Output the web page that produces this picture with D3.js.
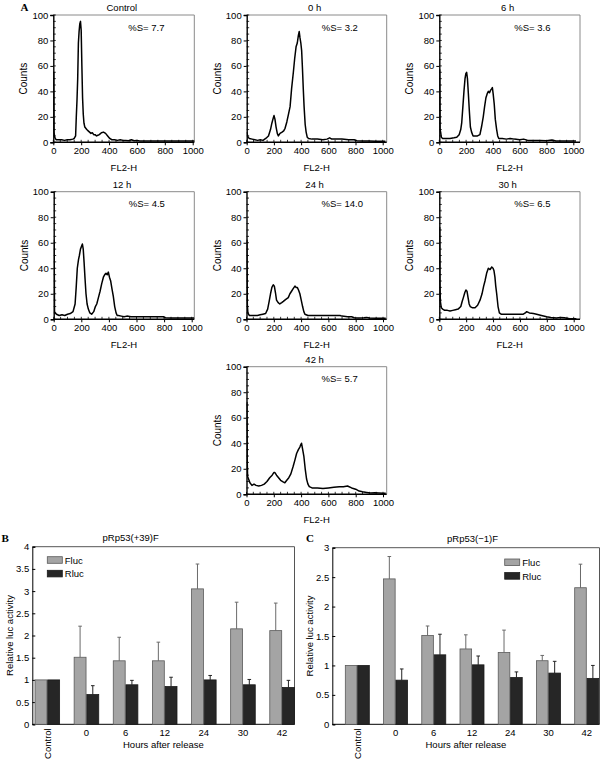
<!DOCTYPE html>
<html><head><meta charset="utf-8">
<script src="https://cdn.jsdelivr.net/npm/d3@7/dist/d3.min.js"></script>
<style>body{margin:0;background:#fff}svg{display:block;font-family:"Liberation Sans",Arial,sans-serif}</style>
</head><body>
<svg id="c" width="600" height="759"></svg>
<script>
// ---------- Panel A data: flow cytometry histograms [FL2-H, counts] ----------
const histTitles = ["Control","0 h","6 h","12 h","24 h","30 h","42 h"];
const histSPhase = ["7.7","3.2","3.6","4.5","14.0","6.5","5.7"];
const histControl = [[0,55],[3,55],[5,8],[10,4],[20,2],[40,2],[60,2],[80,1.5],[100,2],[120,2],[140,2.5],[150,3],[160,5],[165,20],[170,33],[175,50],[180,78],[185,87],[190,93],[195,95],[200,88],[205,60],[210,35],[215,22],[220,15],[226,12],[240,10],[250,9],[260,8],[270,7],[280,7.5],[290,6],[300,6],[310,5],[320,5.5],[330,6],[345,7.5],[360,8],[375,7],[390,5],[405,3],[420,2],[440,2],[460,1.5],[480,2],[500,1.5],[520,1.5],[540,1.2],[560,2],[580,1.2],[600,1.5],[620,1],[650,1],[700,1],[750,1],[800,1],[850,1],[900,1],[950,1],[1020,1]];
const hist0h = [[0,8],[5,6],[10,4],[20,3],[40,2.5],[60,2],[80,1.5],[100,2],[120,1.5],[140,3],[160,5],[175,10],[185,15],[195,19],[201,21],[208,18],[216,12],[225,7],[233,5],[245,7],[260,8],[272,9],[282,11],[295,16],[307,22],[319,28],[330,42],[343,55],[353,66],[363,75],[372,78],[380,84],[386,87],[392,82],[398,78],[404,72],[410,58],[416,42],[422,28],[430,14],[437,8],[445,4],[455,3],[480,2.5],[520,2.5],[560,2],[590,2.5],[610,3.5],[625,2.5],[660,2.5],[700,2.5],[750,2],[790,2],[810,1.2],[850,1],[900,1],[950,0.8],[1020,0.8]];
const hist6h = [[0,57],[3,57],[6,10],[10,8],[15,4],[25,3],[50,3],[80,3],[110,3.5],[130,4],[148,6],[160,10],[167,15],[176,28],[184,40],[192,50],[198,54],[204,55],[210,50],[217,38],[224,25],[232,12],[241,8],[252,5],[266,5],[285,5],[303,6],[315,12],[328,20],[338,28],[348,35],[357,38],[366,40],[375,39],[383,41],[390,42],[396,43],[402,38],[410,30],[418,18],[428,10],[436,5],[444,3],[470,3],[500,2.5],[530,3],[560,2.5],[600,2],[630,2.5],[660,1.5],[700,1.5],[750,1.5],[800,1.2],[840,1.8],[870,1],[920,1],[970,1],[1020,1]];
const hist12h = [[0,62],[3,62],[6,6],[10,5],[20,4],[40,3],[60,3.5],[80,3],[100,4],[120,4.5],[140,6],[155,12],[163,25],[171,40],[180,47],[186,50],[194,55],[201,57],[208,59],[214,55],[220,45],[227,32],[234,20],[242,12],[251,8],[262,5],[275,4],[290,6],[302,10],[312,12],[324,17],[336,22],[348,28],[360,33],[370,35],[379,36],[388,35],[396,37],[404,33],[413,30],[422,24],[432,18],[442,10],[452,5],[460,3],[469,3],[490,2.5],[510,2],[530,2.5],[560,2],[600,2],[650,2],[700,2],[750,2],[795,2],[810,1.2],[850,1],[900,1],[950,1],[1020,1]];
const hist24h = [[0,62],[3,62],[6,12],[10,5],[20,3],[40,3],[60,3],[80,3],[100,3.5],[120,4],[140,4.5],[155,8],[166,14],[176,20],[186,25],[196,27],[204,26],[212,21],[220,15],[232,13],[244,12],[258,13],[270,14],[281,15],[293,16],[306,17],[318,20],[330,22],[342,24],[355,26],[364,25],[372,25],[381,23],[391,20],[401,15],[411,10],[420,6],[428,4],[450,3],[500,3],[550,3],[600,3],[650,3],[685,3],[700,2.5],[740,2],[770,2],[790,1.2],[820,1],[860,1.2],[880,1.5],[900,1],[950,0.8],[1020,0.8]];
const hist30h = [[0,72],[3,72],[5,28],[8,14],[15,9],[25,8],[40,7],[60,7],[80,6.5],[100,7],[120,7.5],[140,8],[160,10],[170,14],[179,17],[190,21],[198,23],[206,22],[214,17],[222,12],[230,10],[248,9],[266,9],[285,11],[303,15],[318,20],[330,26],[340,30],[352,36],[365,40],[378,39],[390,41],[400,40],[407,38],[414,33],[420,26],[427,20],[437,10],[447,5],[460,4],[500,4],[550,4],[600,4],[625,4],[640,5],[650,6],[670,5],[700,4.5],[724,4],[760,3],[799,2],[830,1.5],[873,1],[900,1.5],[930,1.2],[970,0.5],[1020,0.5]];
const hist42h = [[0,72],[3,72],[5,28],[8,14],[15,12],[25,9],[40,7],[55,8],[70,7],[90,6.5],[110,7],[130,8],[150,10],[170,13],[188,15],[200,17],[208,17],[220,15],[235,13],[250,11],[265,10],[281,9],[295,11],[310,13],[325,16],[342,22],[355,27],[367,32],[380,35],[391,37],[398,39],[403,40],[410,36],[420,30],[430,20],[440,12],[450,8],[460,6],[480,5],[520,5],[560,4.5],[600,5],[640,5.5],[680,6],[710,6],[740,6.5],[770,5],[800,4],[825,2.5],[850,2],[880,1.5],[910,1],[940,1.2],[970,1],[1000,0.8],[1020,0.8]];
const histData = [histControl, hist0h, hist6h, hist12h, hist24h, hist30h, hist42h];
const histXTicks = [0,200,400,600,800,1000];
const histYTicks = [0,20,40,60,80,100];

// ---------- Panels B and C: luciferase activity ----------
const lucCategories = ["Control","0","6","12","24","30","42"];
const seriesNames = ["Fluc","Rluc"];
const bFluc     = [1.0, 1.51, 1.43, 1.43, 3.05, 2.15, 2.11];
const bFlucErr  = [1.0, 2.21, 1.96, 1.85, 3.61, 2.75, 2.73];
const bRluc     = [1.0, 0.67, 0.89, 0.85, 1.0, 0.89, 0.83];
const bRlucErr  = [1.0, 0.87, 0.99, 1.06, 1.1, 1.01, 0.99];
const cFluc     = [1.0, 2.47, 1.51, 1.28, 1.22, 1.08, 2.32];
const cFlucErr  = [1.0, 2.85, 1.67, 1.52, 1.6, 1.17, 2.72];
const cRluc     = [1.0, 0.75, 1.18, 1.01, 0.795, 0.87, 0.78];
const cRlucErr  = [1.0, 0.94, 1.53, 1.16, 0.89, 1.07, 1.0];
const bYTicks = [0,0.5,1,1.5,2,2.5,3,3.5,4];
const cYTicks = [0,0.5,1,1.5,2,2.5,3];

const svg = d3.select("#c");

// ---------- Draw histograms ----------
const panelPos = [
  {l:53.3,x1:192.7,r:194.3,t:15,b:142.3},{l:246.7,x1:382.7,r:386.7,t:15,b:142.3},{l:439.3,x1:573.3,r:580,t:15,b:142.3},
  {l:53.7,x1:191.7,r:194.3,t:191.7,b:319.3},{l:246.5,x1:383,r:386.7,t:191.7,b:319.3},{l:439.3,x1:573.7,r:580,t:191.7,b:319.3},
  {l:246.5,x1:383,r:386.7,t:366.7,b:494.3}
];
histData.forEach((data,i)=>{
  const p = panelPos[i];
  const x = d3.scaleLinear().domain([0,1000]).range([p.l, p.x1]);
  const y = d3.scaleLinear().domain([0,100]).range([p.b, p.t]);
  const g = svg.append("g");
  const cid = "clip"+i;
  svg.append("clipPath").attr("id",cid).append("rect").attr("x",p.l).attr("y",p.t).attr("width",p.r-p.l).attr("height",p.b-p.t+1);
  g.append("path").attr("d",`M${p.l},${p.t}H${p.r}V${p.b}`).attr("fill","none").attr("stroke","#8a8a8a").attr("stroke-width",1);
  d3.range(0,101,5).forEach(v=>{ g.append("line").attr("x1",p.l).attr("x2",p.l+2.5).attr("y1",y(v)).attr("y2",y(v)).attr("stroke","#000").attr("stroke-width",0.8);});
  d3.range(0,1001,50).forEach(v=>{ g.append("line").attr("x1",x(v)).attr("x2",x(v)).attr("y1",p.b).attr("y2",p.b-2.5).attr("stroke","#000").attr("stroke-width",0.8);});
  const ya = d3.axisLeft(y).tickValues(histYTicks).tickSize(3).tickPadding(2).tickFormat(d3.format("d"));
  const xa = d3.axisBottom(x).tickValues(histXTicks).tickSize(3).tickPadding(2).tickFormat(d3.format("d"));
  const gy = g.append("g").attr("transform",`translate(${p.l},0)`).call(ya);
  const gx = g.append("g").attr("transform",`translate(0,${p.b})`).call(xa);
  gx.select(".domain").attr("d",`M${p.l},0H${p.r}`);
  [gy,gx].forEach(a=>{a.selectAll("text").attr("font-size",9.5).attr("font-family","Liberation Sans, Arial").attr("fill","#000");
    a.select(".domain").attr("stroke","#000").attr("stroke-width",1.4);
    a.selectAll(".tick line").attr("stroke","#000");});
  g.append("path").datum(data).attr("clip-path",`url(#${cid})`).attr("d",d3.line().x(d=>x(d[0])).y(d=>y(d[1]))).attr("fill","none").attr("stroke","#000").attr("stroke-width",1.5).attr("stroke-linejoin","round");
  g.append("text").attr("x",(p.l+p.r)/2-2).attr("y",p.t-4).attr("text-anchor","middle").attr("font-size",9.5).text(histTitles[i]);
  g.append("text").attr("x",p.l+75).attr("y",p.t+15.5).attr("font-size",9.5).text("%S= "+histSPhase[i]);
  g.append("text").attr("transform",`translate(${p.l-26},${(p.t+p.b)/2}) rotate(-90)`).attr("text-anchor","middle").attr("font-size",10).text("Counts");
  g.append("text").attr("x",(p.l+p.r)/2).attr("y",p.b+29).attr("text-anchor","middle").attr("font-size",9.5).text("FL2-H");
});
svg.append("text").attr("x",20.5).attr("y",10.5).attr("font-family","Liberation Serif, serif").attr("font-weight","bold").attr("font-size",11).text("A");

// ---------- Bar charts ----------
function barChart(cfg){
  const {left,top,bottom,bandL,bandR,ymax,ticks,fluc,flucErr,rluc,rlucErr,title,titleX,letter,letterX,legX,legY,frameRight} = cfg;
  const g = svg.append("g");
  const x = d3.scaleBand().domain(lucCategories).range([bandL,bandR]).padding(0);
  const y = d3.scaleLinear().domain([0,ymax]).range([bottom,top]);
  const bw = cfg.bw;
  g.append("path").attr("d",`M${left},${top}H${frameRight}V${bottom}`).attr("fill","none").attr("stroke","#555").attr("stroke-width",1);
  const ya = d3.axisLeft(y).tickValues(ticks).tickSize(-3).tickPadding(3).tickFormat(d=>d3.format("~g")(d));
  const gy = g.append("g").attr("transform",`translate(${left},0)`).call(ya);
  gy.selectAll("text").attr("font-size",9.5).attr("font-family","Liberation Sans, Arial").attr("fill","#000");
  gy.select(".domain").attr("stroke","#000").attr("stroke-width",1);
  gy.selectAll(".tick line").attr("stroke","#000");
  g.append("line").attr("x1",left).attr("x2",frameRight).attr("y1",bottom).attr("y2",bottom).attr("stroke","#000").attr("stroke-width",1);
  const series = [{v:fluc,e:flucErr,fill:"#a4a4a4",stroke:"#5a5a5a",ec:"#6a6a6a",off:-bw},{v:rluc,e:rlucErr,fill:"#262626",stroke:"#1a1a1a",ec:"#222",off:0}];
  series.forEach(s=>{
    lucCategories.forEach((c,i)=>{
      const cx = x(c)+x.bandwidth()/2;
      const x0 = cx + s.off;
      if (s.e[i] > s.v[i]+0.001){
        const ex = x0+bw/2;
        g.append("line").attr("x1",ex).attr("x2",ex).attr("y1",y(s.v[i])).attr("y2",y(s.e[i])).attr("stroke",s.ec).attr("stroke-width",1);
        g.append("line").attr("x1",ex-1.8).attr("x2",ex+1.8).attr("y1",y(s.e[i])).attr("y2",y(s.e[i])).attr("stroke",s.ec).attr("stroke-width",1);
      }
      g.append("rect").attr("x",x0+0.4).attr("y",y(s.v[i])).attr("width",bw-0.8).attr("height",y(0)-y(s.v[i])).attr("fill",s.fill).attr("stroke",s.stroke).attr("stroke-width",0.8);
    });
  });
  lucCategories.forEach((c,i)=>{
    const cx = x(c)+x.bandwidth()/2;
    if (c==="Control"){
      g.append("text").attr("transform",`translate(${cx+3.5},${bottom+4}) rotate(-90)`).attr("text-anchor","end").attr("font-size",9.5).text(c);
    } else {
      g.append("text").attr("x",cx).attr("y",bottom+11.5).attr("text-anchor","middle").attr("font-size",9.5).text(c);
    }
  });
  g.append("text").attr("x",(left+frameRight)/2).attr("y",bottom+24).attr("text-anchor","middle").attr("font-size",9.5).text("Hours after release");
  g.append("text").attr("transform",`translate(${left-19},${(top+bottom)/2}) rotate(-90)`).attr("text-anchor","middle").attr("font-size",9.5).text("Relative luc activity");
  g.append("text").attr("x",titleX).attr("y",top-6).attr("text-anchor","middle").attr("font-size",9.5).text(title);
  g.append("text").attr("x",letterX).attr("y",542).attr("font-family","Liberation Serif, serif").attr("font-weight","bold").attr("font-size",11).text(letter);
  const leg = [{n:seriesNames[0],f:"#a4a4a4",s:"#5a5a5a"},{n:seriesNames[1],f:"#262626",s:"#1a1a1a"}];
  leg.forEach((d,k)=>{
    g.append("rect").attr("x",legX).attr("y",legY+k*13.6).attr("width",15).attr("height",6.6).attr("fill",d.f).attr("stroke",d.s).attr("stroke-width",0.8);
    g.append("text").attr("x",legX+17.5).attr("y",legY+k*13.6+7).attr("font-size",9.5).text(d.n);
  });
}
barChart({left:32.3,frameRight:294.5,top:546.7,bottom:724.3,bandL:27.75,bandR:301.65,bw:12.7,ymax:4,ticks:bYTicks,
  fluc:bFluc,flucErr:bFlucErr,rluc:bRluc,rlucErr:bRlucErr,title:"pRp53(+39)F",titleX:130.7,letter:"B",letterX:1.5,legX:47.3,legY:556.7});
barChart({left:332.3,frameRight:599.5,top:547.7,bottom:724.3,bandL:338.2,bandR:605.8,bw:12.4,ymax:3,ticks:cYTicks,
  fluc:cFluc,flucErr:cFlucErr,rluc:cRluc,rlucErr:cRlucErr,title:"pRp53(\u22121)F",titleX:472.5,letter:"C",letterX:306,legX:504.7,legY:559});
</script>
</body></html>
